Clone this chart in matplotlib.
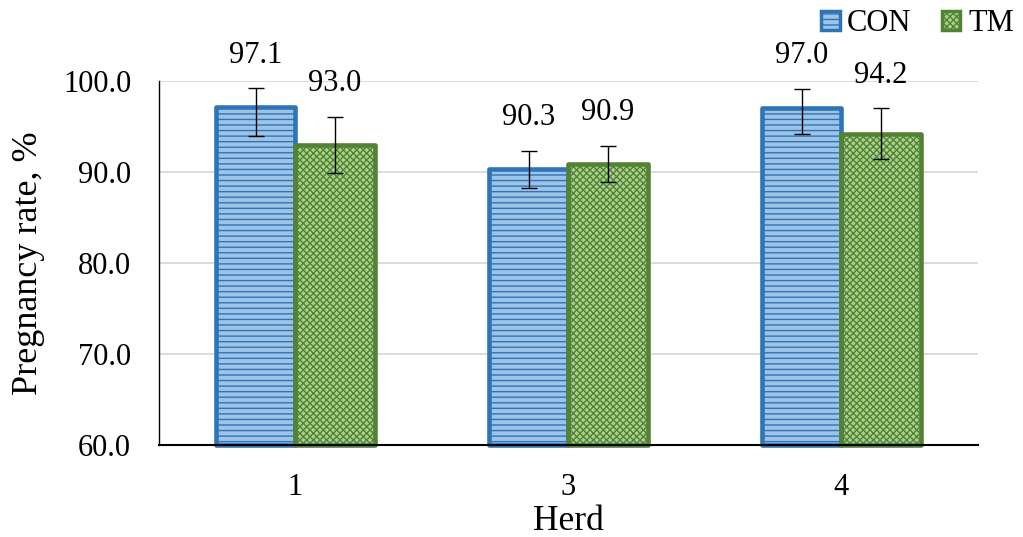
import matplotlib.pyplot as plt
import numpy as np

# data
herds = ['1', '3', '4']
con = [97.1, 90.3, 97.0]
tm = [93.0, 90.9, 94.2]
con_err_lo = [3.1, 2.0, 2.8]
con_err_hi = [2.1, 2.0, 2.1]
tm_err = [3.1, 2.0, 2.8]

plt.rcParams['font.family'] = ['Liberation Serif', 'DejaVu Serif']
plt.rcParams['hatch.linewidth'] = 1.0

fig = plt.figure(figsize=(10.23, 5.37), dpi=100)
ax = fig.add_axes([0.1554, 0.1713, 0.8006, 0.6777])

x = np.arange(len(herds))
w = 0.29
base = 60

# fill + hatch first, then thick outline on top
ax.bar(x - w / 2, np.array(con) - base, w, bottom=base, color='#9DC3E6',
       edgecolor='#2E75B6', hatch='---', linewidth=0, clip_on=False, zorder=2)
ax.bar(x + w / 2, np.array(tm) - base, w, bottom=base, color='#A9D18E',
       edgecolor='#548235', hatch='xxxxx', linewidth=0, clip_on=False, zorder=2)
ax.bar(x - w / 2, np.array(con) - base, w, bottom=base, fill=False,
       edgecolor='#2E75B6', linewidth=3.3, joinstyle='round', clip_on=False, zorder=3)
ax.bar(x + w / 2, np.array(tm) - base, w, bottom=base, fill=False,
       edgecolor='#548235', linewidth=3.3, joinstyle='round', clip_on=False, zorder=3)

ax.errorbar(x - w / 2, con, yerr=[con_err_lo, con_err_hi], fmt='none',
            ecolor='black', elinewidth=1.0, capsize=6, capthick=1.0, zorder=4)
ax.errorbar(x + w / 2, tm, yerr=tm_err, fmt='none',
            ecolor='black', elinewidth=1.0, capsize=6, capthick=1.0, zorder=4)

# value labels above the error bars
for i in range(len(herds)):
    ax.annotate('%.1f' % con[i], (x[i] - w / 2, con[i] + con_err_hi[i]),
                xytext=(0, 24), textcoords='offset points',
                ha='center', va='center', fontsize=22)
    ax.annotate('%.1f' % tm[i], (x[i] + w / 2, tm[i] + tm_err[i]),
                xytext=(0, 24), textcoords='offset points',
                ha='center', va='center', fontsize=22)

ax.set_xlim(-0.5, 2.5)
ax.set_ylim(60, 100)
ax.set_yticks([60, 70, 80, 90, 100])
ax.set_yticklabels(['%.1f' % v for v in [60, 70, 80, 90, 100]])
ax.set_xticks(x)
ax.set_xticklabels(herds)
ax.tick_params(axis='both', length=0, labelsize=22, pad=20)
ax.grid(axis='y', color='#D9D9D9', linewidth=1.3, zorder=0)
ax.set_axisbelow(True)
for s in ['top', 'right']:
    ax.spines[s].set_visible(False)
ax.spines['left'].set_linewidth(1.0)
ax.spines['bottom'].set_linewidth(1.5)
ax.spines['bottom'].set_zorder(5)

ax.set_ylabel('Pregnancy rate, %', fontsize=26)
ax.set_xlabel('Herd', fontsize=25.5, va='baseline')
ax.yaxis.set_label_coords(-0.139, 0.5)
ax.xaxis.set_label_coords(0.5, -0.233)

# legend handles
h1 = plt.Rectangle((0, 0), 1, 1, facecolor='#9DC3E6', edgecolor='#2E75B6',
                   hatch='---', linewidth=2.5)
h2 = plt.Rectangle((0, 0), 1, 1, facecolor='#A9D18E', edgecolor='#548235',
                   hatch='xxxxx', linewidth=2.5)
fig.legend([h1, h2], ['CON', 'TM'], loc='upper right', bbox_to_anchor=(1.0, 1.0),
           ncol=2, frameon=False, fontsize=22, handlelength=0.6, handleheight=0.6,
           handletextpad=0.25, columnspacing=1.0, borderaxespad=0.1, borderpad=0.2)

fig.savefig('out.png', dpi=100)
